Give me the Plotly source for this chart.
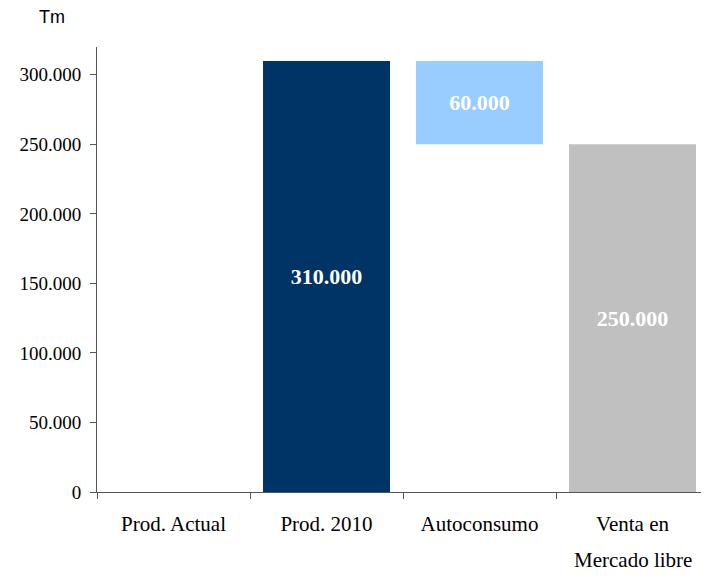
import plotly.graph_objects as go

categories = ["Prod. Actual", "Prod. 2010", "Autoconsumo", "Venta en Mercado libre"]
tick_labels = ["Prod. Actual", "Prod. 2010", "Autoconsumo", "Venta en"]
values = [0, 310000, 60000, 250000]
bases = [0, 0, 250000, 0]
colors = ["#003366", "#003366", "#99CCFF", "#C0C0C0"]

labels = [f"{v:,}".replace(",", ".") if v else "" for v in values]

fig = go.Figure()
fig.add_trace(go.Bar(
    x=categories,
    y=values,
    base=bases,
    marker=dict(color=colors, line=dict(width=0)),
    text=labels,
    textposition="inside",
    insidetextanchor="middle",
    textangle=0,
    textfont=dict(family="Liberation Serif", size=22, color="white", weight="bold"),
    hoverinfo="skip",
))

# page body has an 8px default margin, so the figure is a bit smaller than the window
fig.update_layout(
    width=701,
    height=571,
    margin=dict(l=89, r=0, t=39, b=87),
    plot_bgcolor="white",
    paper_bgcolor="white",
    separators=",.",
    bargap=0.17,
    showlegend=False,
    font=dict(family="Liberation Serif", size=20, color="black"),
)
fig.update_xaxes(
    automargin=False,
    tickvals=categories, ticktext=tick_labels,
    showline=True, linecolor="#555555", linewidth=1,
    ticks="outside", tickson="boundaries", ticklen=6, tickcolor="#555555",
    showgrid=False, tickfont=dict(size=21), ticklabelstandoff=13,
)
fig.update_yaxes(
    automargin=False,
    range=[0, 320000], tickvals=[0, 50000, 100000, 150000, 200000, 250000, 300000],
    tickformat=",d", showline=True, linecolor="#555555", linewidth=1,
    ticks="outside", ticklen=6, tickcolor="#555555", showgrid=False,
    zeroline=False, tickfont=dict(size=19), ticklabelstandoff=5,
)
# second line of the last category label
fig.add_annotation(
    text="Mercado libre", x=categories[3], xref="x", yref="paper", y=-0.121,
    yanchor="top", showarrow=False, font=dict(size=21),
)
fig.add_annotation(
    text="Tm", xref="paper", yref="paper", x=-0.098, y=1.067,
    xanchor="left", yanchor="middle",
    showarrow=False, font=dict(family="Liberation Sans", size=18, color="black"),
)

fig.write_html("out.html")
